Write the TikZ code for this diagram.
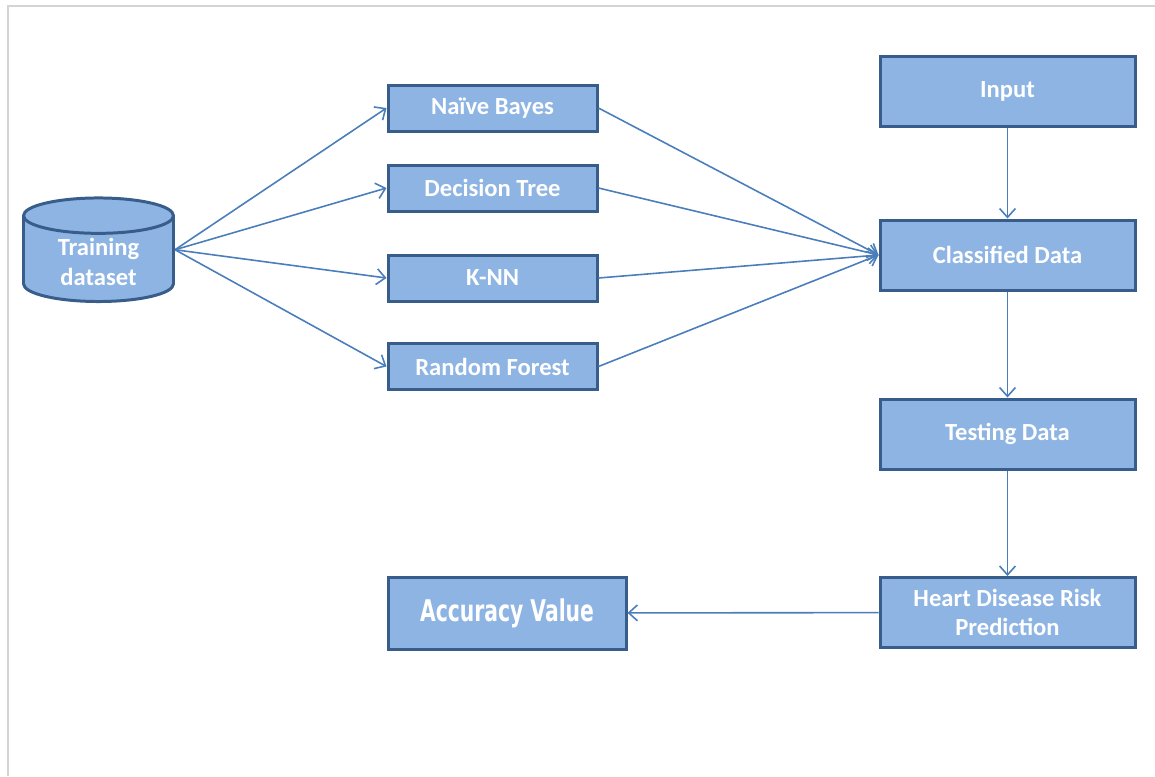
\documentclass[tikz,border=0pt]{standalone}
\usepackage{fontspec}
\setmainfont{Carlito}
\newfontfamily\accfont[FakeStretch=0.68]{DejaVu Sans}
\usepackage{tikz}
\usetikzlibrary{shapes.geometric, positioning, arrows.meta}

\definecolor{boxfill}{HTML}{8EB4E3}
\definecolor{boxline}{HTML}{385D8A}
\definecolor{arrline}{HTML}{4A7EBB}
\definecolor{frameline}{HTML}{D4D4D4}

\tikzset{
    box/.style={draw=boxline, line width=1.7pt, fill=boxfill, text=white,
        font=\fontsize{14}{16}\selectfont\bfseries, align=center, inner sep=2pt},
    algo/.style={box, minimum width=4.18cm, minimum height=0.92cm},
    stage/.style={box, minimum width=5.1cm, minimum height=1.4cm},
    flow/.style={draw=arrline, line width=0.9pt, -{Straight Barb[length=5pt, width=9pt]}}
}

\begin{document}
\begin{tikzpicture}

        \useasboundingbox (0, 0) rectangle (23.1, -15.52);

        % Rahmen
        \draw[frameline, line width=0.6pt] (0.16, -15.52) -- (0.16, -0.12) -- (23.1, -0.12);

        \node[box, shape=cylinder, shape border rotate=90, aspect=0.4,
            minimum width=3cm, minimum height=1.76cm,
            font=\fontsize{14}{17}\selectfont\bfseries] (ds) at (1.97, -5.24) {Training\\dataset};
        \coordinate (dsout) at (ds.shape center -| ds.east);

        % Klassifikatoren
        \node[algo] (nb) at (9.85, -2.16) {Naïve Bayes};
        \node[algo] (dt) at (9.85, -3.76) {Decision Tree};
        \node[algo] (knn) at (9.85, -5.56) {K-NN};
        \node[algo] (rf) at (9.85, -7.33) {Random Forest};

        % rechte Spalte
        \node[stage] (in) at (20.15, -1.83) {Input};
        \node[stage] (cd) at (20.15, -5.10) {Classified Data};
        \node[stage] (td) at (20.15, -8.68) {Testing Data};
        \node[stage] (hp) at (20.15, -12.25) {Heart Disease Risk\\Prediction};

        \node[box, minimum width=4.76cm, minimum height=1.44cm,
            font=\fontsize{17}{20}\selectfont\accfont\bfseries] (acc) at (10.14, -12.26) {Accuracy Value};

        % Pfeile
        \foreach \n in {nb, dt, knn, rf} {
            \draw[flow] (dsout) -- (\n.west);
            \draw[flow] (\n.east) -- (cd.west);
        }

        \draw[flow] (in) -- (cd);
        \draw[flow] (cd) -- (td);
        \draw[flow] (td) -- (hp);
        \draw[flow] (hp) -- (acc);

\end{tikzpicture}
\end{document}
